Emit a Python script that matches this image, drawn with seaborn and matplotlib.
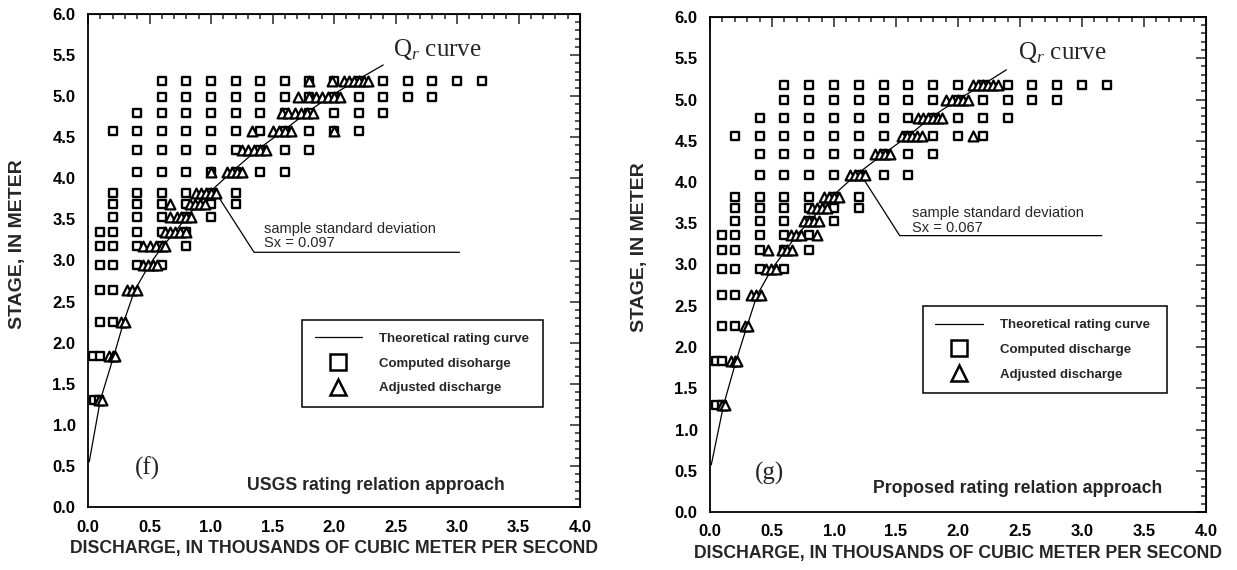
import numpy as np
import pandas as pd
import matplotlib
matplotlib.use("Agg")
import matplotlib.pyplot as plt
from matplotlib.ticker import MultipleLocator
from matplotlib.lines import Line2D
import seaborn as sns

# ---------------- data ----------------
STAGES_F = [1.30, 1.84, 2.25, 2.64, 2.95, 3.18, 3.35, 3.53, 3.69, 3.82,
            4.08, 4.34, 4.57, 4.79, 4.99, 5.19]
STAGES_G = [1.30, 1.83, 2.26, 2.63, 2.95, 3.17, 3.36, 3.53, 3.69, 3.82,
            4.09, 4.34, 4.56, 4.78, 5.00, 5.18]

# computed discharge (thousand m3/s) per stage row
COMPUTED_F = [
    [0.05, 0.09],
    [0.04, 0.10],
    [0.10, 0.20],
    [0.10, 0.20],
    [0.10, 0.20, 0.40, 0.60],
    [0.10, 0.20, 0.40, 0.60, 0.80],
    [0.10, 0.20, 0.40, 0.60, 0.80],
    [0.20, 0.40, 0.60, 0.80, 1.00],
    [0.20, 0.40, 0.60, 0.80, 1.00, 1.20],
    [0.20, 0.40, 0.60, 0.80, 1.00, 1.20],
    [0.40, 0.60, 0.80, 1.00, 1.20, 1.40, 1.60],
    [0.40, 0.60, 0.80, 1.00, 1.20, 1.40, 1.60, 1.80],
    [0.20, 0.40, 0.60, 0.80, 1.00, 1.20, 1.40, 1.60, 1.80, 2.00, 2.20],
    [0.40, 0.60, 0.80, 1.00, 1.20, 1.40, 1.60, 1.80, 2.00, 2.20, 2.40],
    [0.60, 0.80, 1.00, 1.20, 1.40, 1.60, 1.80, 2.00, 2.20, 2.40, 2.60, 2.80],
    [0.60, 0.80, 1.00, 1.20, 1.40, 1.60, 1.80, 2.00, 2.20, 2.40, 2.60, 2.80, 3.00, 3.20],
]
ADJUSTED_F = [
    [0.09, 0.11],
    [0.17, 0.20, 0.22],
    [0.27, 0.30],
    [0.32, 0.36, 0.40],
    [0.45, 0.49, 0.53, 0.56],
    [0.45, 0.50, 0.55, 0.60, 0.63],
    [0.63, 0.67, 0.71, 0.75, 0.80],
    [0.67, 0.72, 0.76, 0.80, 0.84],
    [0.67, 0.83, 0.87, 0.91, 0.95],
    [0.88, 0.92, 0.96, 1.00, 1.04],
    [1.00, 1.13, 1.17, 1.21, 1.25],
    [1.25, 1.30, 1.35, 1.40, 1.45],
    [1.33, 1.50, 1.55, 1.60, 1.65, 2.00],
    [1.58, 1.63, 1.68, 1.73, 1.78, 1.83],
    [1.71, 1.80, 1.85, 1.90, 1.95, 2.00, 2.05],
    [1.80, 1.98, 2.08, 2.12, 2.16, 2.20, 2.24, 2.28],
]
COMPUTED_G = [
    [0.05, 0.10],
    [0.05, 0.10],
    [0.10, 0.20],
    [0.10, 0.20],
    [0.10, 0.20, 0.40, 0.60],
    [0.10, 0.20, 0.40, 0.60, 0.80],
    [0.10, 0.20, 0.40, 0.60, 0.80],
    [0.20, 0.40, 0.60, 0.80, 1.00],
    [0.20, 0.40, 0.60, 0.80, 1.00, 1.20],
    [0.20, 0.40, 0.60, 0.80, 1.00, 1.20],
    [0.40, 0.60, 0.80, 1.00, 1.20, 1.40, 1.60],
    [0.40, 0.60, 0.80, 1.00, 1.20, 1.40, 1.60, 1.80],
    [0.20, 0.40, 0.60, 0.80, 1.00, 1.20, 1.40, 1.60, 1.80, 2.00, 2.20],
    [0.40, 0.60, 0.80, 1.00, 1.20, 1.40, 1.60, 1.80, 2.00, 2.20, 2.40],
    [0.60, 0.80, 1.00, 1.20, 1.40, 1.60, 1.80, 2.00, 2.20, 2.40, 2.60, 2.80],
    [0.60, 0.80, 1.00, 1.20, 1.40, 1.60, 1.80, 2.00, 2.20, 2.40, 2.60, 2.80, 3.00, 3.20],
]
ADJUSTED_G = [
    [0.10, 0.12],
    [0.17, 0.20, 0.22],
    [0.28, 0.31],
    [0.33, 0.37, 0.41],
    [0.45, 0.49, 0.53],
    [0.47, 0.58, 0.62, 0.66],
    [0.65, 0.69, 0.73, 0.86],
    [0.76, 0.80, 0.84, 0.88],
    [0.82, 0.86, 0.90, 0.94],
    [0.92, 0.96, 1.00, 1.04],
    [1.13, 1.17, 1.21, 1.25],
    [1.33, 1.37, 1.41, 1.45],
    [1.55, 1.59, 1.63, 1.67, 1.71, 2.12],
    [1.68, 1.72, 1.76, 1.80, 1.84, 1.87],
    [1.90, 1.95, 2.00, 2.04, 2.08],
    [2.12, 2.16, 2.20, 2.24, 2.28, 2.32],
]

# theoretical rating curves
CURVE_F_Q = [0.01, 0.10, 0.21, 0.29, 0.38, 0.50, 0.61, 0.71, 0.80, 0.90, 0.98,
             1.17, 1.37, 1.58, 1.77, 1.96, 2.18, 2.40]
CURVE_F_H = [0.55, 1.30, 1.84, 2.25, 2.64, 2.95, 3.18, 3.35, 3.53, 3.69, 3.82,
             4.08, 4.34, 4.57, 4.79, 4.99, 5.19, 5.38]
CURVE_G_Q = [0.01, 0.11, 0.21, 0.30, 0.38, 0.50, 0.61, 0.70, 0.81, 0.90, 0.98,
             1.18, 1.40, 1.60, 1.78, 2.00, 2.20, 2.39]
CURVE_G_H = [0.57, 1.30, 1.83, 2.26, 2.63, 2.95, 3.17, 3.36, 3.53, 3.69, 3.82,
             4.09, 4.34, 4.56, 4.78, 5.00, 5.18, 5.36]

SX_F = "0.097"
SX_G = "0.067"


def rows_to_frame(stages, rows):
    q, h = [], []
    for s, r in zip(stages, rows):
        q.extend(r)
        h.extend([s] * len(r))
    return pd.DataFrame({"Q": q, "H": h})


sns.set_style("white")
plt.rcParams["font.family"] = ["Liberation Sans", "DejaVu Sans"]
plt.rcParams["mathtext.fontset"] = "custom"
plt.rcParams["mathtext.rm"] = "Liberation Serif"
plt.rcParams["mathtext.it"] = "Liberation Serif:italic"

fig = plt.figure(figsize=(12.37, 5.70), dpi=100)

panels = [
    dict(rect=[88 / 1237, 1 - 507 / 570, 492 / 1237, 493 / 570],
         stages=STAGES_F, comp=COMPUTED_F, adj=ADJUSTED_F,
         cq=CURVE_F_Q, ch=CURVE_F_H, tag="(f)",
         method="USGS rating relation approach", sx=SX_F,
         method_pos=(0.323, 0.043),
         leader=([1.05, 1.35, 3.02], [3.80, 3.10, 3.10]),
         sxpos=(1.43, 3.38, 3.21),
         legbox=(0.435, 0.203, 0.49, 0.18),
         ylab=(-0.126, 0.533),
         comp_label="Computed disoharge"),
    dict(rect=[710 / 1237, 1 - 512 / 570, 496 / 1237, 495 / 570],
         stages=STAGES_G, comp=COMPUTED_G, adj=ADJUSTED_G,
         cq=CURVE_G_Q, ch=CURVE_G_H, tag="(g)",
         method="Proposed rating relation approach", sx=SX_G,
         method_pos=(0.329, 0.048),
         leader=([1.22, 1.53, 3.16], [4.08, 3.35, 3.35]),
         sxpos=(1.63, 3.62, 3.44),
         legbox=(0.429, 0.240, 0.492, 0.18),
         ylab=(-0.125, 0.535),
         comp_label="Computed discharge"),
]

for p in panels:
    ax = fig.add_axes(p["rect"])
    comp = rows_to_frame(p["stages"], p["comp"])
    adj = rows_to_frame(p["stages"], p["adj"])
    curve = pd.DataFrame({"Q": p["cq"], "H": p["ch"]})

    sns.lineplot(data=curve, x="Q", y="H", sort=False, color="black",
                 linewidth=0.9, ax=ax, zorder=2)
    sns.scatterplot(data=comp, x="Q", y="H", marker="s", s=30,
                    facecolor="white", edgecolor="black", linewidth=1.7,
                    ax=ax, zorder=3)
    sns.scatterplot(data=adj, x="Q", y="H", marker="^", s=50,
                    facecolor="white", edgecolor="black", linewidth=1.6,
                    ax=ax, zorder=4)

    ax.set_xlim(0, 4.0)
    ax.set_ylim(0, 6.0)
    ax.xaxis.set_major_locator(MultipleLocator(0.5))
    ax.xaxis.set_minor_locator(MultipleLocator(0.1))
    ax.yaxis.set_major_locator(MultipleLocator(0.5))
    ax.yaxis.set_minor_locator(MultipleLocator(0.1))
    ax.xaxis.set_major_formatter(lambda v, pos: f"{v:.1f}")
    ax.yaxis.set_major_formatter(lambda v, pos: f"{v:.1f}")
    ax.tick_params(which="both", direction="out", colors="black",
                   width=1.1, labelsize=12)
    ax.tick_params(which="major", length=7, pad=2)
    ax.tick_params(which="minor", length=3.5)
    for lab in ax.get_xticklabels() + ax.get_yticklabels():
        lab.set_fontweight("bold")
    for sp in ax.spines.values():
        sp.set_color("black")
        sp.set_linewidth(1.3)

    # inward ticks on top / right
    secx = ax.secondary_xaxis("top")
    secx.xaxis.set_major_locator(MultipleLocator(0.5))
    secx.xaxis.set_minor_locator(MultipleLocator(0.1))
    secx.tick_params(which="both", direction="in", labeltop=False, width=1.1)
    secx.tick_params(which="major", length=7)
    secx.tick_params(which="minor", length=3.5)
    secy = ax.secondary_yaxis("right")
    secy.yaxis.set_major_locator(MultipleLocator(0.5))
    secy.yaxis.set_minor_locator(MultipleLocator(0.1))
    secy.tick_params(which="both", direction="in", labelright=False, width=1.1)
    secy.tick_params(which="major", length=7)
    secy.tick_params(which="minor", length=3.5)

    ax.set_xlabel("DISCHARGE, IN THOUSANDS OF CUBIC METER PER SECOND",
                  fontsize=12.7, fontweight="bold", labelpad=4)
    ax.set_ylabel("STAGE, IN METER", fontsize=14, fontweight="bold")
    ax.yaxis.set_label_coords(*p["ylab"])

    # Qr curve label
    ax.text(2.48, 5.57, r"Q$_{r}$ curve", fontsize=18,
            family="Liberation Serif", ha="left", va="center")
    # panel tag
    ax.text(0.48, 0.47, p["tag"], fontsize=18, family="Liberation Serif",
            ha="center", va="center")
    # method label
    ax.text(*p["method_pos"], p["method"], transform=ax.transAxes,
            fontsize=12.7, fontweight="bold", ha="left", va="center")

    # standard deviation annotation
    lx, ly = p["leader"]
    ax.plot(lx, ly, color="black", linewidth=0.9, zorder=2)
    sx0, sy1, sy2 = p["sxpos"]
    ax.text(sx0, sy1, "sample standard deviation", fontsize=10.5,
            ha="left", va="center")
    ax.text(sx0, sy2, "Sx = " + p["sx"], fontsize=10.5, ha="left", va="center")

    handles = [
        Line2D([], [], color="black", linewidth=0.9),
        Line2D([], [], marker="s", linestyle="none", markersize=11,
               markerfacecolor="white", markeredgecolor="black",
               markeredgewidth=1.8),
        Line2D([], [], marker="^", linestyle="none", markersize=11,
               markerfacecolor="white", markeredgecolor="black",
               markeredgewidth=1.8),
    ]
    labels = ["Theoretical rating curve", p["comp_label"], "Adjusted discharge"]
    leg = ax.legend(handles, labels, loc="lower left",
                    bbox_to_anchor=p["legbox"], mode="expand",
                    frameon=True, fancybox=False, edgecolor="black",
                    framealpha=1, prop=dict(size=9.5, weight="bold"),
                    handlelength=3.6, handletextpad=1.3, borderpad=0.95,
                    labelspacing=0.95, borderaxespad=0)
    leg.get_frame().set_linewidth(1.1)

fig.savefig("out.png", dpi=100)
